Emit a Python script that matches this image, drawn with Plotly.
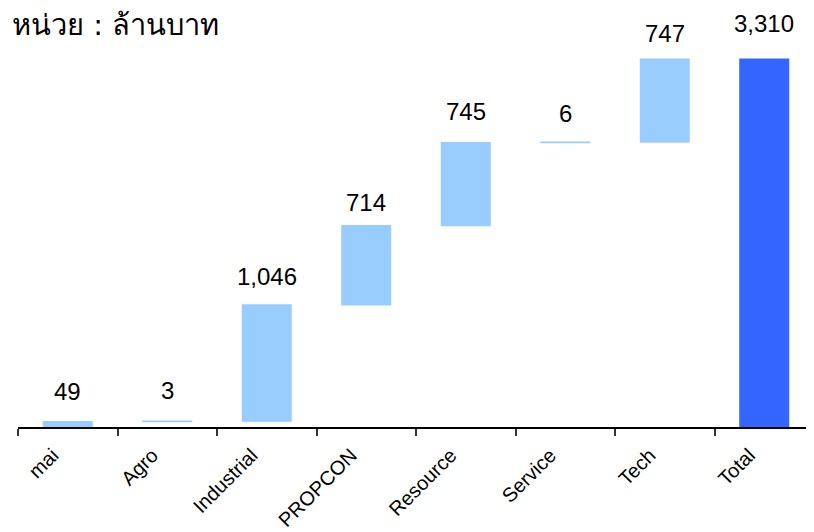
import plotly.graph_objects as go
import numpy as np

categories = ["mai", "Agro", "Industrial", "PROPCON", "Resource", "Service", "Tech", "Total"]
values = [49, 3, 1046, 714, 745, 6, 747, 3310]
measures = ["relative"] * 7 + ["total"]
label_texts = ["49", "3", "1,046", "714", "745", "6", "747", "3,310"]
unit_title = "หน่วย : ล้านบาท"

# style: label offsets above bar tops (px)
label_shift = [30, 31, 28, 23, 31, 29, 26, 36]

tops = list(np.cumsum(values[:-1])) + [values[-1]]

fig = go.Figure(go.Waterfall(
    x=categories, y=values, measure=measures,
    increasing=dict(marker=dict(color="#99CCFF", line=dict(color="#99CCFF", width=1.2))),
    decreasing=dict(marker=dict(color="#99CCFF", line=dict(color="#99CCFF", width=1.2))),
    totals=dict(marker=dict(color="#3366FF", line=dict(color="#3366FF", width=1.2))),
    connector=dict(visible=False),
    width=0.49,
    hoverinfo="skip",
))

for c, t, txt, s in zip(categories, tops, label_texts, label_shift):
    fig.add_annotation(x=c, y=t, text=txt, showarrow=False, yshift=s,
                       font=dict(family="Arial, Liberation Sans", size=24, color="#000000"))

fig.add_annotation(xref="paper", yref="paper", x=-8 / 796, y=1.0, yshift=-5,
                   xanchor="left", yanchor="middle", text=unit_title, showarrow=False,
                   font=dict(family="Tahoma, DejaVu Sans, Noto Sans, sans-serif", size=29, color="#000000"))

fig.update_layout(
    width=806, height=524,
    margin=dict(l=10, r=0, t=12, b=105, autoexpand=False),
    paper_bgcolor="white", plot_bgcolor="white",
    showlegend=False,
    xaxis=dict(
        type="category", showline=True, linecolor="#000000", linewidth=1.5,
        ticks="outside", tickson="boundaries", ticklen=7, tickcolor="#333333", tickwidth=1.5,
        tickangle=-45, tickfont=dict(family="Arial, Liberation Sans", size=20, color="#000000"),
        ticklabelstandoff=7, ticklabelshift=-15, automargin=False,
        showgrid=False, zeroline=False,
    ),
    yaxis=dict(range=[0, 3310 * 407 / 368], visible=False, showgrid=False, zeroline=False),
)

fig.write_html("out.html")
